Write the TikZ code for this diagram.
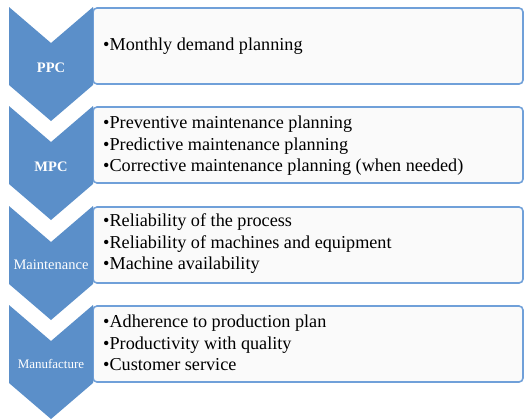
\documentclass[tikz,border=0pt]{standalone}
\usepackage{fontspec}
\setmainfont{Liberation Serif}

\definecolor{stageblue}{RGB}{91,143,201}
\definecolor{boxline}{RGB}{112,160,217}
\definecolor{boxfill}{RGB}{250,250,250}

\begin{document}
\begin{tikzpicture}[
    x=1pt, y=-1pt,
    stage/.style={fill=stageblue},
    panel/.style={draw=boxline, line width=1.6pt, fill=boxfill, rounded corners=4pt},
    items/.style={anchor=west, align=left, inner sep=0pt, font={\fontsize{18.2}{21.5}\selectfont}},
    tag/.style={text=white, inner sep=0pt, font={\fontsize{14.5}{16}\selectfont}}
]

    \useasboundingbox (0,0) rectangle (527,418);

    % Draw the text panels
    \draw[panel] (93,8) rectangle (523,84);
    \draw[panel] (93,107) rectangle (523,183);
    \draw[panel] (93,207) rectangle (523,283);
    \draw[panel] (93,306) rectangle (523,382);

    % Draw the chevrons
    \begin{scope}
    \clip (0,0) rectangle (527,418);
    \fill[stage] (9,7) -- ++(42,36) -- ++(42,-36) -- ++(0,78) -- ++(-42,36) -- ++(-42,-36) -- cycle;
    \fill[stage] (9,106) -- ++(42,36) -- ++(42,-36) -- ++(0,78) -- ++(-42,36) -- ++(-42,-36) -- cycle;
    \fill[stage] (9,206) -- ++(42,36) -- ++(42,-36) -- ++(0,78) -- ++(-42,36) -- ++(-42,-36) -- cycle;
    \fill[stage] (9,305) -- ++(42,36) -- ++(42,-36) -- ++(0,78) -- ++(-42,36) -- ++(-42,-36) -- cycle;
    \end{scope}

    % Chevron labels
    \node[tag, font={\fontsize{14.5}{16}\selectfont\bfseries}] (ppc) at (51,68) {PPC};
    \node[tag, font={\fontsize{14.5}{16}\selectfont\bfseries}] (mpc) at (51,167) {MPC};
    \node[tag] (maint) at (51,265) {Maintenance};
    \node[tag, font={\fontsize{13}{15}\selectfont}] (manuf) at (51,364) {Manufacture};

    % Panel contents
    \node[items] (ppc_items) at (103,46) {•Monthly demand planning};
    \node[items] (mpc_items) at (103,146) {•Preventive maintenance planning\\
        •Predictive maintenance planning\\
        •Corrective maintenance planning (when needed)};
    \node[items] (maint_items) at (103,244) {•Reliability of the process\\
        •Reliability of machines and equipment\\
        •Machine availability};
    \node[items] (manuf_items) at (103,343) {•Adherence to production plan\\
        •Productivity with quality\\
        •Customer service};

\end{tikzpicture}
\end{document}
